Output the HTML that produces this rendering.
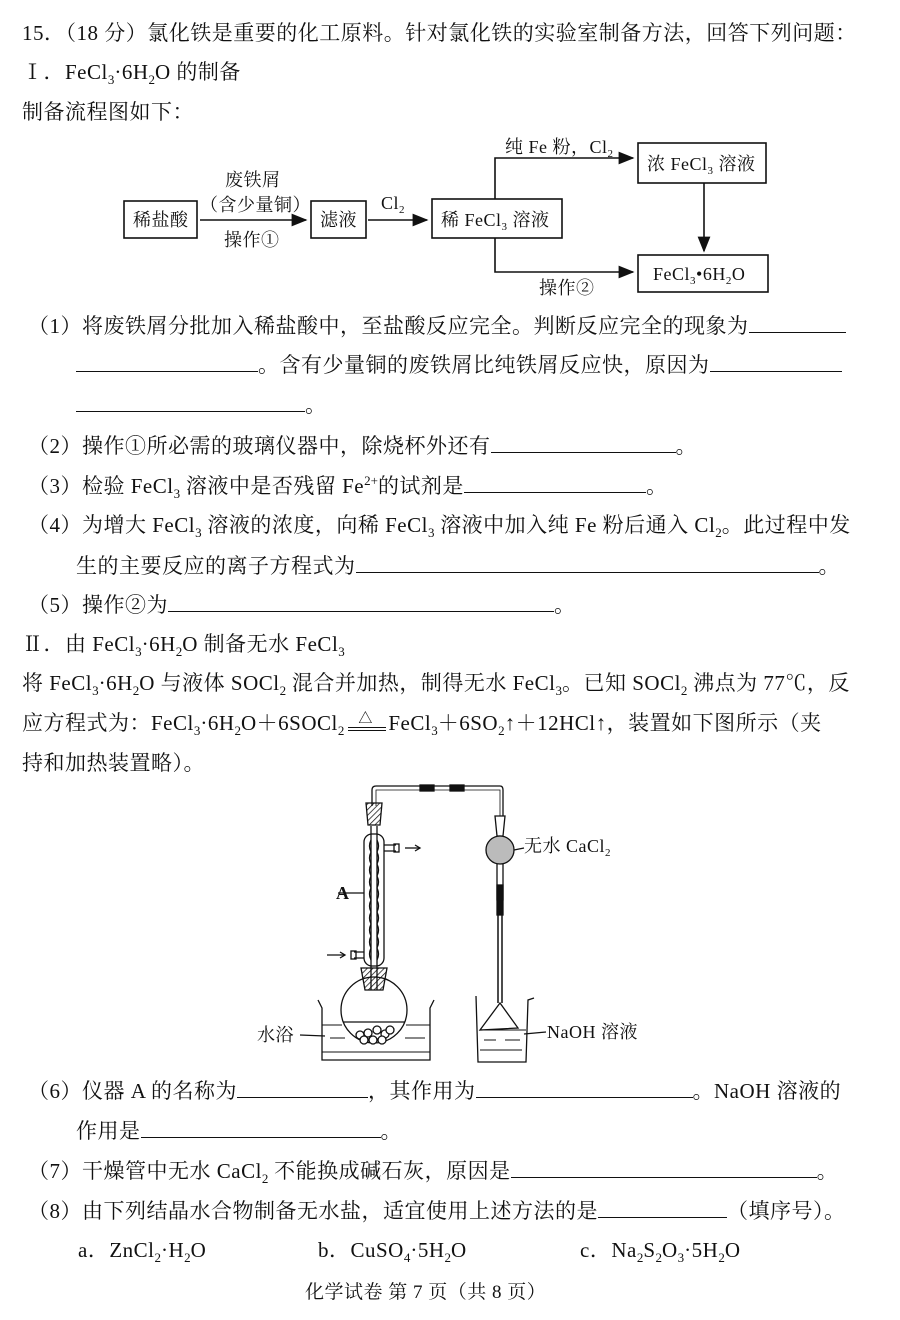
<!DOCTYPE html>
<html><head><meta charset="utf-8"><style>
body{margin:0;background:#fff;}
#p{position:relative;width:900px;height:1320px;overflow:hidden;font-family:"Liberation Serif","Noto Serif CJK SC",serif;font-size:21px;letter-spacing:0.5px;color:#111;}
.l{position:absolute;white-space:nowrap;line-height:26px;}
.b{display:inline-block;border-bottom:1px solid #111;height:20px;vertical-align:baseline;}
sub,sup{font-size:13px;line-height:0;letter-spacing:0;}
svg text{font-family:"Liberation Serif","Noto Serif CJK SC",serif;}
</style></head><body><div id="p">
<div class="l" style="left:22px;top:20px">15．（18 分）氯化铁是重要的化工原料。针对氯化铁的实验室制备方法，回答下列问题：</div>
<div class="l" style="left:22px;top:59px">Ⅰ．FeCl<sub>3</sub>·6H<sub>2</sub>O 的制备</div>
<div class="l" style="left:22px;top:99px">制备流程图如下：</div>

<svg style="position:absolute;left:0;top:0" width="900" height="310" viewBox="0 0 900 310">
<defs><marker id="ar" markerWidth="10" markerHeight="8" refX="9" refY="4" orient="auto"><path d="M0,0 L10,4 L0,8 z" fill="#111"/></marker></defs>
<g fill="none" stroke="#111" stroke-width="1.6">
<rect x="124" y="201" width="73" height="37"/>
<rect x="311" y="201" width="55" height="37"/>
<rect x="432" y="199" width="130" height="39"/>
<rect x="638" y="143" width="128" height="40"/>
<rect x="638" y="255" width="130" height="37"/>
<line x1="200" y1="220" x2="306" y2="220" marker-end="url(#ar)"/>
<line x1="368" y1="220" x2="427" y2="220" marker-end="url(#ar)"/>
<polyline points="495,199 495,158 633,158" marker-end="url(#ar)"/>
<polyline points="495,238 495,272 633,272" marker-end="url(#ar)"/>
<line x1="704" y1="183" x2="704" y2="251" marker-end="url(#ar)"/>
</g>
<g font-size="18" fill="#111">
<text x="133" y="226">稀盐酸</text>
<text x="320" y="226">滤液</text>
<text x="441" y="226">稀 FeCl<tspan font-size="11" dy="4">3</tspan><tspan dy="-4"> 溶液</tspan></text>
<text x="647" y="170">浓 FeCl<tspan font-size="11" dy="4">3</tspan><tspan dy="-4"> 溶液</tspan></text>
<text x="653" y="280">FeCl<tspan font-size="11" dy="4">3</tspan><tspan dy="-4">•6H</tspan><tspan font-size="11" dy="4">2</tspan><tspan dy="-4">O</tspan></text>
<text x="225" y="186">废铁屑</text>
<text x="200" y="211">（含少量铜）</text>
<text x="224" y="246">操作①</text>
<text x="381" y="209">Cl<tspan font-size="11" dy="4">2</tspan></text>
<text x="505" y="153">纯 Fe 粉，Cl<tspan font-size="11" dy="4">2</tspan></text>
<text x="539" y="294">操作②</text>
</g></svg>

<div class="l" style="left:28px;top:312px">（1）将废铁屑分批加入稀盐酸中，至盐酸反应完全。判断反应完全的现象为<span class="b" style="width:97px"></span></div>
<div class="l" style="left:76px;top:351px"><span class="b" style="width:182px"></span>。含有少量铜的废铁屑比纯铁屑反应快，原因为<span class="b" style="width:132px"></span></div>
<div class="l" style="left:76px;top:391px"><span class="b" style="width:229px"></span>。</div>
<div class="l" style="left:28px;top:432px">（2）操作①所必需的玻璃仪器中，除烧杯外还有<span class="b" style="width:185px"></span>。</div>
<div class="l" style="left:28px;top:472px">（3）检验 FeCl<sub>3</sub> 溶液中是否残留 Fe<sup>2+</sup>的试剂是<span class="b" style="width:182px"></span>。</div>
<div class="l" style="left:28px;top:512px">（4）为增大 FeCl<sub>3</sub> 溶液的浓度，向稀 FeCl<sub>3</sub> 溶液中加入纯 Fe 粉后通入 Cl<sub>2</sub>。此过程中发</div>
<div class="l" style="left:76px;top:552px">生的主要反应的离子方程式为<span class="b" style="width:463px"></span>。</div>
<div class="l" style="left:28px;top:591px">（5）操作②为<span class="b" style="width:386px"></span>。</div>
<div class="l" style="left:22px;top:631px">Ⅱ．由 FeCl<sub>3</sub>·6H<sub>2</sub>O 制备无水 FeCl<sub>3</sub></div>
<div class="l" style="left:22px;top:670px">将 FeCl<sub>3</sub>·6H<sub>2</sub>O 与液体 SOCl<sub>2</sub> 混合并加热，制得无水 FeCl<sub>3</sub>。已知 SOCl<sub>2</sub> 沸点为 77℃，反</div>
<div class="l" style="left:22px;top:710px">应方程式为：FeCl<sub>3</sub>·6H<sub>2</sub>O＋6SOCl<sub>2</sub><span style="display:inline-block;width:44px;position:relative;height:20px;vertical-align:middle"><span style="position:absolute;left:4px;right:2px;top:12px;border-top:1px solid #111;border-bottom:1px solid #111;height:2px"></span><span style="position:absolute;left:14px;top:-8px;font-size:14px">△</span></span>FeCl<sub>3</sub>＋6SO<sub>2</sub>↑＋12HCl↑，装置如下图所示（夹</div>
<div class="l" style="left:22px;top:750px">持和加热装置略）。</div>

<svg style="position:absolute;left:0;top:770px" width="900" height="300" viewBox="250 770 400 300">
<defs><pattern id="h" width="4" height="4" patternUnits="userSpaceOnUse" patternTransform="rotate(45)"><line x1="0" y1="0" x2="0" y2="4" stroke="#111" stroke-width="1.5"/></pattern></defs>
<g fill="none" stroke="#111" stroke-width="1.3">
<path d="M372,806 L372,790 Q372,786 376,786 L500,786 Q503,786 503,790 L503,816"/>
<path d="M376,806 L376,790 L500,790 L500,816" stroke-width="0.8"/>
<rect x="420" y="785" width="14" height="6" fill="#111"/>
<rect x="450" y="785" width="14" height="6" fill="#111"/>
<path d="M366,803 L382,803 L380,825 L368,825 Z" fill="url(#h)"/>
<rect x="364" y="834" width="20" height="132" rx="8"/>
<path d="M371,826 L371,990 M377,826 L377,990"/>
<path d="M371,840 q-3,6 0,12 q-3,6 0,12 q-3,6 0,12 q-3,6 0,12 q-3,6 0,12 q-3,6 0,12 q-3,6 0,12 q-3,6 0,12 q-3,6 0,12 q-3,6 0,12"/>
<path d="M377,840 q3,6 0,12 q3,6 0,12 q3,6 0,12 q3,6 0,12 q3,6 0,12 q3,6 0,12 q3,6 0,12 q3,6 0,12 q3,6 0,12 q3,6 0,12"/>
<path d="M384,845 L396,845 M384,851 L396,851"/><rect x="394" y="844" width="5" height="8"/>
<path d="M364,952 L354,952 M364,958 L354,958"/><rect x="351" y="951" width="5" height="8"/>
<path d="M405,848 L420,848"/><path d="M415,845 L420,848 L415,851"/>
<path d="M327,955 L345,955"/><path d="M340,952 L345,955 L340,958"/>
<line x1="338" y1="893" x2="364" y2="893"/>
<path d="M361,968 L387,968 L383,990 L365,990 Z" fill="url(#h)"/>
<circle cx="374" cy="1010" r="33"/>
<path d="M343,1022 L405,1022"/>
<path d="M318,1000 L322,1008 L322,1060 L430,1060 L430,1008 L434,1000"/>
<path d="M322,1025 L342,1025 M406,1025 L430,1025 M330,1038 L345,1038 M405,1038 L425,1038 M322,1052 L430,1052" stroke-width="1"/>
<g fill="#fff"><circle cx="360" cy="1035" r="4"/><circle cx="368" cy="1033" r="4"/><circle cx="377" cy="1030" r="4"/><circle cx="385" cy="1034" r="4"/><circle cx="364" cy="1040" r="4"/><circle cx="373" cy="1040" r="4"/><circle cx="382" cy="1040" r="4"/><circle cx="390" cy="1030" r="4"/></g>
<line x1="300" y1="1035" x2="325" y2="1036"/>
<path d="M495,816 L505,816 L503,836 L497,836 Z"/>
<circle cx="500" cy="850" r="14" fill="#bbb"/>
<path d="M497,864 L497,900 L499,913 M503,864 L503,900 L501,913"/>
<rect x="497" y="885" width="6" height="30" fill="#111"/>
<path d="M498,915 L498,1003 M502,915 L502,1003" stroke-width="1.5"/>
<path d="M500,1003 L480,1030 L518,1028 Z"/>
<path d="M476,996 L478,1062 L526,1062 L528,1000 L534,998"/>
<path d="M480,1030 L526,1030 M484,1040 L496,1040 M505,1040 L520,1040 M480,1050 L522,1050" stroke-width="1"/>
<line x1="524" y1="1034" x2="546" y2="1032"/>
<line x1="514" y1="850" x2="524" y2="848"/>
</g>
<g font-size="18" fill="#111">
<text x="524" y="852">无水 CaCl<tspan font-size="11" dy="4">2</tspan></text>
<text x="336" y="899" font-weight="bold">A</text>
<text x="257" y="1041">水浴</text>
<text x="547" y="1038">NaOH 溶液</text>
</g></svg>

<div class="l" style="left:28px;top:1077px">（6）仪器 A 的名称为<span class="b" style="width:131px"></span>，其作用为<span class="b" style="width:217px"></span>。NaOH 溶液的</div>
<div class="l" style="left:76px;top:1117px">作用是<span class="b" style="width:240px"></span>。</div>
<div class="l" style="left:28px;top:1157px">（7）干燥管中无水 CaCl<sub>2</sub> 不能换成碱石灰，原因是<span class="b" style="width:306px"></span>。</div>
<div class="l" style="left:28px;top:1197px">（8）由下列结晶水合物制备无水盐，适宜使用上述方法的是<span class="b" style="width:129px"></span>（填序号）。</div>
<div class="l" style="left:78px;top:1237px">a．ZnCl<sub>2</sub>·H<sub>2</sub>O</div>
<div class="l" style="left:318px;top:1237px">b．CuSO<sub>4</sub>·5H<sub>2</sub>O</div>
<div class="l" style="left:580px;top:1237px">c．Na<sub>2</sub>S<sub>2</sub>O<sub>3</sub>·5H<sub>2</sub>O</div>
<div class="l" style="left:305px;top:1280px;font-size:19px">化学试卷 第 7 页（共 8 页）</div>
</div></body></html>
